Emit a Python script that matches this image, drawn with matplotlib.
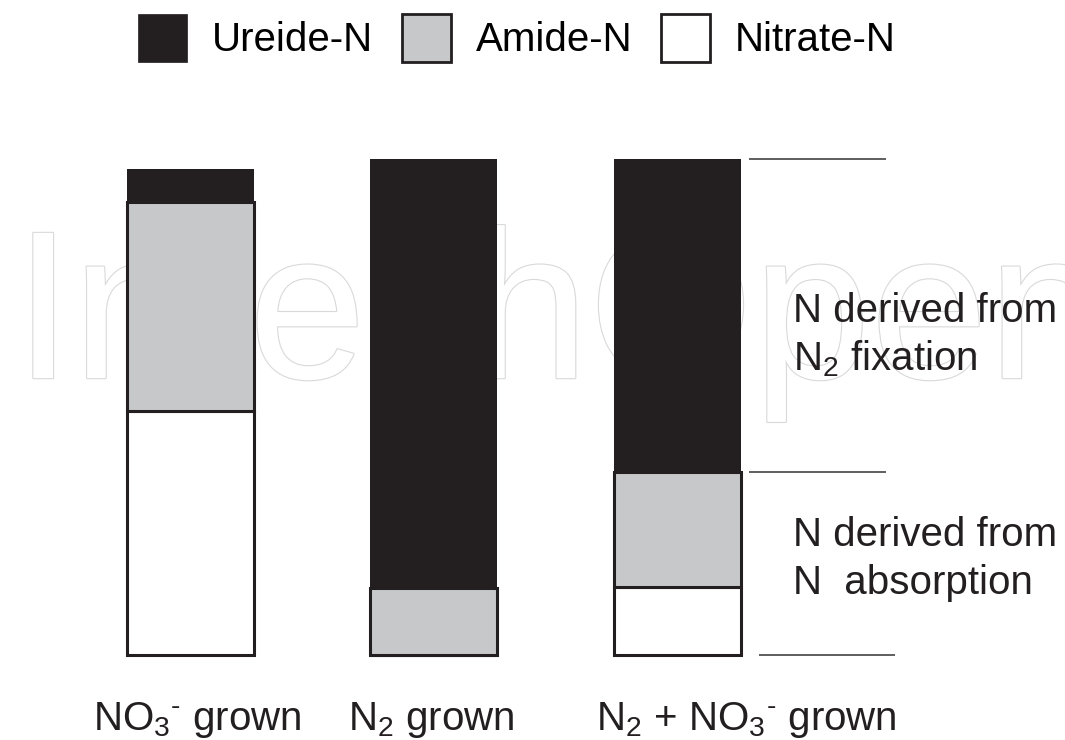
import matplotlib
matplotlib.use('Agg')
import matplotlib.pyplot as plt
from matplotlib.patches import Patch
import matplotlib.patheffects as pe
import numpy as np

plt.rcParams['font.family'] = ['Liberation Sans', 'DejaVu Sans']
plt.rcParams['mathtext.fontset'] = 'custom'
plt.rcParams['mathtext.rm'] = 'Liberation Sans'
plt.rcParams['mathtext.it'] = 'Liberation Sans'

# data (relative N, N2-grown total = 100)
treatments = [r'NO$_3{}^{\text{-}}$ grown', 'N$_2$ grown', r'N$_2$ + NO$_3{}^{\text{-}}$ grown']
nitrate_n = [49.2, 0.0, 13.7]
amide_n = [42.1, 13.5, 23.2]
ureide_n = [6.7, 86.5, 63.1]
legend_labels = ['Ureide-N', 'Amide-N', 'Nitrate-N']
source_labels = [['N derived from', 'N$_2$ fixation'],
                 ['N derived from', 'N  absorption']]

BLACK = '#231f20'
GREY = '#c7c8ca'
FS = 29

fig = plt.figure(figsize=(10.65, 7.4), dpi=100)
ax = fig.add_axes([0, 0, 1, 1])
ax.set_xlim(-0.7823, 3.5914)
ax.set_ylim(-17.14, 132.06)
ax.axis('off')

# watermark
ax.text(0.013, 0.489, 'IntechOpen', transform=ax.transAxes, fontsize=152,
        color='white', ha='left', va='baseline', zorder=0,
        path_effects=[pe.Stroke(linewidth=1.6, foreground='#d9d9d9'), pe.Normal()])

x = np.arange(len(treatments))
nitrate = np.array(nitrate_n)
amide = np.array(amide_n)
ureide = np.array(ureide_n)
w = 0.5216

ax.bar(x, nitrate, w, color='white', edgecolor=BLACK, linewidth=2.2, zorder=2)
ax.bar(x, amide, w, bottom=nitrate, color=GREY, edgecolor=BLACK, linewidth=2.2, zorder=2)
ax.bar(x, ureide, w, bottom=nitrate + amide, color=BLACK, edgecolor='none', zorder=3)

# reference lines beside the mixed treatment bar
top = nitrate[2] + amide[2] + ureide[2]
mid = nitrate[2] + amide[2]
ax.hlines([top, mid], 2.294, 2.856, color='#333333', linewidth=1.1)
ax.hlines(0, 2.335, 2.893, color='#333333', linewidth=1.1)

# side annotations
line_y = [[67.1, 57.3], [22.0, 12.3]]
for lines, ys in zip(source_labels, line_y):
    for s, yy in zip(lines, ys):
        ax.text(2.474, yy, s, fontsize=FS, ha='left', va='baseline', color=BLACK, zorder=4)

# category labels
label_x = [-0.4004, 0.6468, 1.665]
for s, lx in zip(treatments, label_x):
    ax.text(lx, -15.12, s, fontsize=FS, ha='left', va='baseline', color=BLACK)

handles = [Patch(facecolor=BLACK, edgecolor=BLACK, linewidth=0.5),
           Patch(facecolor=GREY, edgecolor=BLACK, linewidth=2.0),
           Patch(facecolor='white', edgecolor=BLACK, linewidth=2.0)]
ax.legend(handles, legend_labels, loc='center', bbox_to_anchor=(0.4855, 0.9486),
          ncol=3, frameon=False, fontsize=FS, handlelength=1.22, handleheight=1.47,
          handletextpad=0.61, columnspacing=0.72, borderpad=0, borderaxespad=0)

fig.savefig('out.png', dpi=100)
